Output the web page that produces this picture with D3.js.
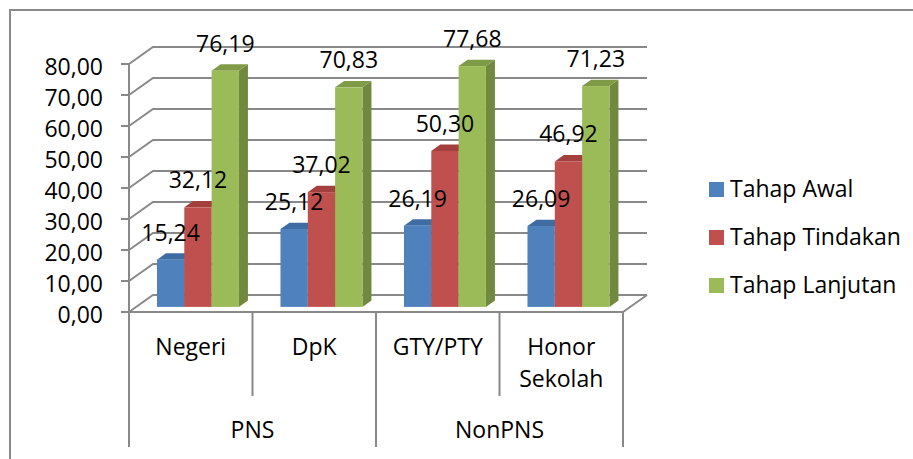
<!DOCTYPE html>
<html>
<head>
<meta charset="utf-8">
<script src="https://cdn.jsdelivr.net/npm/d3@7"></script>
<style>
  body { margin: 0; background: #fff; }
  svg { display: block; }
</style>
</head>
<body>
<svg id="chart" width="913" height="459"></svg>
<script>
// data
const categories = ["Negeri", "DpK", "GTY/PTY", "Honor Sekolah"];
const categoryGroup = ["PNS", "PNS", "NonPNS", "NonPNS"];
const groups = ["PNS", "NonPNS"];
const seriesNames = ["Tahap Awal", "Tahap Tindakan", "Tahap Lanjutan"];
const tahapAwal = [15.24, 25.12, 26.19, 26.09];
const tahapTindakan = [32.12, 37.02, 50.30, 46.92];
const tahapLanjutan = [76.19, 70.83, 77.68, 71.23];
const yTicks = [0, 10, 20, 30, 40, 50, 60, 70, 80];

const seriesValues = [tahapAwal, tahapTindakan, tahapLanjutan];
const colors = [
    { front: "#4f81bd", side: "#385d8a", top: "#3f6ca3" },
    { front: "#c0504d", side: "#8c3836", top: "#a33f3c" },
    { front: "#9bbb59", side: "#71893f", top: "#7f9b47" }
];

const fmt = v => v.toFixed(2).replace(".", ",");
const font = "'Open Sans', 'Noto Sans', sans-serif";
const fontSize = "23px";

const svg = d3.select("#chart");

// outer frame (right and bottom edges run off the picture)
svg.append("rect")
    .attr("x", 10).attr("y", 10)
    .attr("width", 920).attr("height", 470)
    .attr("fill", "none")
    .attr("stroke", "#8a8a8a")
    .attr("stroke-width", 2);

// 3d depth of the plot box
const depthX = 24, depthY = 17;
const zFront = 0.3, zBack = 0.675;

const xScale = d3.scaleBand().domain(categories).range([129, 623]);
const xInner = d3.scaleBand().domain(seriesNames)
    .range([0, xScale.bandwidth()])
    .paddingOuter(0.76);
const yScale = d3.scaleLinear().domain([0, 80]).range([312, 64]);

const gridColor = "#898989";
const x0 = xScale.range()[0], x1 = xScale.range()[1];

// walls: grid lines on side wall + back wall
const grid = svg.append("g");
grid.selectAll("path")
    .data(yTicks)
    .enter()
    .append("path")
    .attr("d", d => {
        const y = yScale(d);
        return "M" + x0 + "," + y + "L" + (x0 + depthX) + "," + (y - depthY) +
            "L" + (x1 + depthX) + "," + (y - depthY);
    })
    .attr("fill", "none")
    .attr("stroke", gridColor)
    .attr("stroke-width", 2);

// floor front edge and right edge
grid.append("path")
    .attr("d", "M" + x0 + "," + yScale(0) + "L" + x1 + "," + yScale(0) +
        "L" + (x1 + depthX) + "," + (yScale(0) - depthY))
    .attr("fill", "none")
    .attr("stroke", gridColor)
    .attr("stroke-width", 2);

// y axis line + ticks
grid.append("line")
    .attr("x1", x0).attr("x2", x0)
    .attr("y1", yScale(80)).attr("y2", yScale(0))
    .attr("stroke", gridColor).attr("stroke-width", 2);
grid.selectAll(".ytick")
    .data(yTicks)
    .enter()
    .append("line")
    .attr("x1", x0 - 8).attr("x2", x0)
    .attr("y1", d => yScale(d)).attr("y2", d => yScale(d))
    .attr("stroke", gridColor).attr("stroke-width", 2);

svg.append("g")
    .selectAll("text")
    .data(yTicks)
    .enter()
    .append("text")
    .attr("x", 103)
    .attr("y", d => yScale(d) + 11)
    .attr("text-anchor", "end")
    .style("font-family", font)
    .style("font-size", fontSize)
    .text(d => fmt(d));

// bars
const bars = [];
categories.forEach((c, ci) => {
    seriesNames.forEach((s, si) => {
        bars.push({ cat: c, series: si, value: seriesValues[si][ci] });
    });
});

const dzX = depthX * (zBack - zFront), dzY = depthY * (zBack - zFront);
const barG = svg.append("g");
bars.forEach(b => {
    const w = xInner.bandwidth();
    const bx = xScale(b.cat) + xInner(seriesNames[b.series]) + depthX * zFront;
    const yBot = yScale(0) - depthY * zFront;
    const yTop = yScale(b.value) - depthY * zFront;
    const col = colors[b.series];
    const g = barG.append("g");
    // right side
    g.append("polygon")
        .attr("points", [[bx + w, yTop], [bx + w + dzX, yTop - dzY], [bx + w + dzX, yBot - dzY], [bx + w, yBot]].join(" "))
        .attr("fill", col.side);
    // top
    g.append("polygon")
        .attr("points", [[bx, yTop], [bx + dzX, yTop - dzY], [bx + w + dzX, yTop - dzY], [bx + w, yTop]].join(" "))
        .attr("fill", col.top);
    // front
    g.append("rect")
        .attr("x", bx).attr("y", yTop)
        .attr("width", w).attr("height", yBot - yTop)
        .attr("fill", col.front);
});

// data labels
svg.append("g")
    .selectAll("text")
    .data(bars)
    .enter()
    .append("text")
    .attr("x", d => xScale(d.cat) + xInner(seriesNames[d.series]) + xInner.bandwidth() / 2 + depthX * zFront)
    .attr("y", d => yScale(d.value) - depthY * zFront - 19)
    .attr("text-anchor", "middle")
    .style("font-family", font)
    .style("font-size", fontSize)
    .text(d => fmt(d.value));

// category axis: dividers and labels
const axisG = svg.append("g");
const boundaries = [x0].concat(categories.map(c => xScale(c) + xScale.bandwidth()));
boundaries.forEach((bx, i) => {
    const isGroupEdge = i === 0 || i === categories.length ||
        categoryGroup[i - 1] !== categoryGroup[i];
    axisG.append("line")
        .attr("x1", bx).attr("x2", bx)
        .attr("y1", yScale(0)).attr("y2", isGroupEdge ? 447 : 396)
        .attr("stroke", gridColor).attr("stroke-width", 2);
});

categories.forEach(c => {
    const words = c.split(" ");
    const t = axisG.append("text")
        .attr("text-anchor", "middle")
        .style("font-family", font)
        .style("font-size", fontSize);
    words.forEach((wd, i) => {
        t.append("tspan")
            .attr("x", xScale(c) + xScale.bandwidth() / 2)
            .attr("y", 355 + i * 32)
            .text(wd);
    });
});

groups.forEach(g => {
    const members = categories.filter((c, i) => categoryGroup[i] === g);
    const gx0 = xScale(members[0]);
    const gx1 = xScale(members[members.length - 1]) + xScale.bandwidth();
    axisG.append("text")
        .attr("x", (gx0 + gx1) / 2)
        .attr("y", 438)
        .attr("text-anchor", "middle")
        .style("font-family", font)
        .style("font-size", fontSize)
        .text(g);
});

// legend
const legend = svg.append("g");
seriesNames.forEach((s, i) => {
    const cy = 189.5 + i * 48;
    legend.append("rect")
        .attr("x", 709).attr("y", cy - 7.5)
        .attr("width", 15).attr("height", 15)
        .attr("fill", colors[i].front);
    legend.append("text")
        .attr("x", 730).attr("y", cy + 7.5)
        .style("font-family", font)
        .style("font-size", fontSize)
        .text(s);
});
</script>
</body>
</html>
